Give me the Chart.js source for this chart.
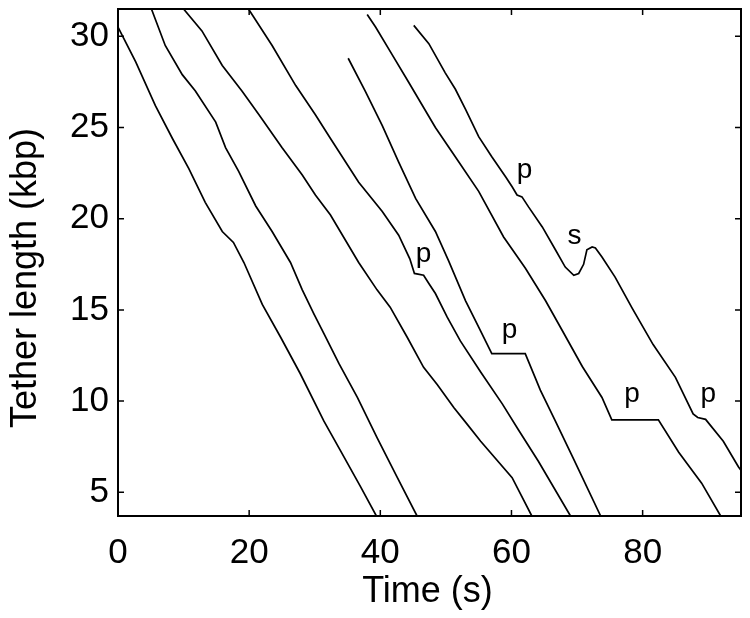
<!DOCTYPE html>
<html><head><meta charset="utf-8">
<script src="https://cdn.jsdelivr.net/npm/chart.js@4.4.1/dist/chart.umd.min.js"></script>
<style>html,body{margin:0;padding:0;background:#fff}#wrap{width:750px;height:618px;position:relative}canvas{display:block}</style>
</head><body><div id="wrap"><canvas id="c" width="750" height="618"></canvas></div>
<script>
const xTicks = [0, 20, 40, 60, 80];
const yTicks = [5, 10, 15, 20, 25, 30];
const xRange = [0, 95];
const yRange = [3.7, 31.5];
const xTitle = 'Time (s)';
const yTitle = 'Tether length (kbp)';

const trace1 = [[0,30.5],[2.7,28.6],[5.7,26.2],[8.3,24.4],[10.8,22.75],[13.3,20.9],[15.9,19.3],[17.6,18.7],[19.2,17.6],[22.0,15.3],[24.8,13.5],[27.8,11.5],[31.4,8.9],[33.9,7.3],[37.0,5.3],[39.4,3.7]];
const trace2 = [[5.1,31.5],[7.2,29.5],[9.8,27.9],[11.8,27.0],[14.9,25.3],[16.4,23.9],[18.4,22.6],[21.0,20.7],[23.5,19.3],[26.3,17.6],[28.1,16.1],[29.85,14.8],[31.4,13.7],[33.7,12.05],[36.5,10.2],[39.5,8.0],[42.6,5.8],[45.6,3.7]];
const trace3 = [[10.0,31.5],[12.8,30.3],[15.9,28.4],[18.9,27.0],[21.5,25.7],[25.0,23.9],[28.1,22.4],[30.1,21.3],[32.4,20.2],[36.7,17.6],[39.5,16.1],[41.5,15.15],[44.1,13.5],[46.6,11.85],[48.7,10.9],[51.2,9.65],[53.2,8.75],[55.3,7.8],[60.1,5.8],[63.1,3.7]];
const trace4 = [[19.9,31.5],[23.5,29.5],[27.1,27.3],[30.1,25.7],[32.4,24.4],[36.7,22.0],[40.3,20.4],[42.8,19.1],[44.5,17.8],[45.2,17.0],[46.6,16.9],[47.4,16.45],[48.4,15.9],[50.2,14.6],[52.2,13.3],[55.3,11.6],[58.6,9.85],[61.1,8.4],[64.1,6.7],[69.0,3.7]];
const trace5 = [[35.1,28.8],[37.7,27.0],[40.3,25.1],[42.8,23.1],[45.4,21.1],[48.4,19.3],[50.4,17.7],[53.0,15.5],[55.0,14.05],[57.0,12.6],[62.1,12.6],[63.6,11.3],[64.4,10.6],[66.7,8.9],[69.5,6.8],[73.6,3.7]];
const trace6 = [[38.0,31.2],[39.3,30.5],[41.8,29.0],[44.3,27.5],[48.4,25.0],[52.0,23.1],[55.0,21.5],[58.8,19.0],[62.1,17.3],[65.2,15.5],[67.7,13.9],[70.8,11.9],[73.8,10.2],[75.3,8.97],[82.4,8.97],[85.5,7.2],[89.0,5.5],[91.9,3.7]];
const trace7 = [[45.1,30.6],[47.4,29.6],[49.9,28.0],[51.45,27.1],[53.0,26.0],[55.0,24.5],[57.0,23.4],[59.1,22.3],[60.1,21.75],[60.85,21.3],[61.6,21.2],[62.6,20.65],[64.7,19.55],[66.7,18.3],[68.2,17.35],[69.5,16.9],[70.25,17.0],[71.0,17.5],[71.5,18.3],[72.3,18.45],[72.8,18.4],[73.8,17.9],[75.8,16.8],[78.4,15.1],[81.6,13.1],[85.0,11.3],[87.7,9.3],[88.4,9.1],[89.6,9.0],[92.3,7.8],[94.6,6.4],[95.2,6.1]];
const traces = [trace1, trace2, trace3, trace4, trace5, trace6, trace7];

const noteText = ['p', 'p', 'p', 's', 'p', 'p'];
const noteX = [46.6, 59.7, 62.0, 69.6, 78.4, 90.0];
const noteY = [17.9, 13.7, 22.5, 19.0, 10.2, 10.2];

const FONT = '"Liberation Sans", Arial, Helvetica, sans-serif';

const frame = {
  id: 'frame',
  afterDraw(chart) {
    const ctx = chart.ctx, a = chart.chartArea;
    const xs = chart.scales.x, ys = chart.scales.y;
    ctx.save();
    ctx.strokeStyle = '#000';
    ctx.lineWidth = 2;
    ctx.strokeRect(a.left, a.top, a.right - a.left, a.bottom - a.top);
    ctx.lineWidth = 1.5;
    const tl = 6;
    ctx.beginPath();
    xTicks.forEach(v => {
      const px = xs.getPixelForValue(v);
      ctx.moveTo(px, a.bottom); ctx.lineTo(px, a.bottom - tl);
      ctx.moveTo(px, a.top); ctx.lineTo(px, a.top + tl);
    });
    yTicks.forEach(v => {
      const py = ys.getPixelForValue(v);
      ctx.moveTo(a.left, py); ctx.lineTo(a.left + tl, py);
      ctx.moveTo(a.right, py); ctx.lineTo(a.right - tl, py);
    });
    ctx.stroke();
    ctx.fillStyle = '#000';
    ctx.font = '28px ' + FONT;
    ctx.textAlign = 'center';
    ctx.textBaseline = 'alphabetic';
    noteText.forEach((t, i) => {
      const m = ctx.measureText(t);
      const cx = xs.getPixelForValue(noteX[i]);
      const cy = ys.getPixelForValue(noteY[i]);
      ctx.fillText(t, cx, cy + (m.actualBoundingBoxAscent - m.actualBoundingBoxDescent) / 2);
    });
    ctx.font = '36px ' + FONT;
    ctx.textAlign = 'center';
    ctx.textBaseline = 'alphabetic';
    ctx.fillText(xTitle, (a.left + a.right) / 2 - 2, 602);
    ctx.save();
    ctx.translate(36, 278);
    ctx.rotate(-Math.PI / 2);
    ctx.fillText(yTitle, 0, 0);
    ctx.restore();
    ctx.restore();
  }
};

new Chart(document.getElementById('c'), {
  type: 'scatter',
  data: {
    datasets: traces.map((t, i) => ({
      label: 'trace ' + (i + 1),
      data: t.map(p => ({ x: p[0], y: p[1] })),
      showLine: true,
      borderColor: '#000',
      backgroundColor: '#000',
      borderWidth: 1.7,
      pointRadius: 0,
      tension: 0
    }))
  },
  options: {
    responsive: false,
    animation: false,
    devicePixelRatio: 1,
    layout: { padding: { left: 0, right: 9, top: 9, bottom: 0 } },
    plugins: { legend: { display: false }, tooltip: { enabled: false } },
    scales: {
      x: {
        type: 'linear', min: xRange[0], max: xRange[1],
        afterBuildTicks: s => { s.ticks = xTicks.map(v => ({ value: v })); },
        afterFit: s => { s.height = 102; s.paddingLeft = 0; s.paddingRight = 0; },
        grid: { display: false, drawTicks: false },
        border: { display: false },
        ticks: { color: '#000', font: { family: FONT, size: 35 }, padding: 16, maxRotation: 0, autoSkip: false }
      },
      y: {
        type: 'linear', min: yRange[0], max: yRange[1],
        afterBuildTicks: s => { s.ticks = yTicks.map(v => ({ value: v })); },
        afterFit: s => { s.width = 118; s.paddingTop = 0; s.paddingBottom = 0; },
        grid: { display: false, drawTicks: false },
        border: { display: false },
        ticks: { color: '#000', font: { family: FONT, size: 35 }, padding: 9, autoSkip: false }
      }
    }
  },
  plugins: [frame]
});
</script>
</body></html>
